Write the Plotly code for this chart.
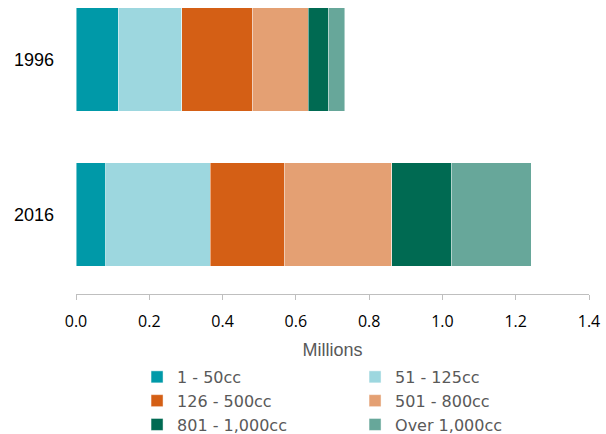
import plotly.graph_objects as go

years = ["1996", "2016"]
series_names = ["1 - 50cc", "51 - 125cc", "126 - 500cc", "501 - 800cc", "801 - 1,000cc", "Over 1,000cc"]
v_1_50 = [0.115, 0.081]
v_51_125 = [0.173, 0.285]
v_126_500 = [0.195, 0.202]
v_501_800 = [0.151, 0.293]
v_801_1000 = [0.056, 0.165]
v_over_1000 = [0.044, 0.216]
series_values = [v_1_50, v_51_125, v_126_500, v_501_800, v_801_1000, v_over_1000]
colors = ["#0099A8", "#9DD7DF", "#D45F15", "#E4A073", "#006A52", "#67A79A"]
x_ticks = [0.0, 0.2, 0.4, 0.6, 0.8, 1.0, 1.2, 1.4]

fig = go.Figure()
for name, vals, col in zip(series_names, series_values, colors):
    fig.add_trace(go.Bar(
        y=years, x=vals, name=name, orientation="h",
        marker=dict(color=col, line=dict(color="rgba(255,255,255,0.45)", width=1)),
        width=0.667,
    ))

fig.update_layout(
    width=606, height=434,
    barmode="stack",
    paper_bgcolor="white", plot_bgcolor="white",
    margin=dict(l=76, r=17, t=0, b=140),
    font=dict(family="Liberation Sans, Arial, sans-serif", color="#595959"),
    xaxis=dict(
        range=[0, 1.4], tickvals=x_ticks, tickformat=".1f",
        showgrid=False, zeroline=False, automargin=False,
        showline=True, linecolor="#BFBFBF", linewidth=1,
        ticks="outside", ticklen=5, tickcolor="#BFBFBF",
        tickfont=dict(family="Open Sans, sans-serif", size=16, color="black"),
        ticklabelstandoff=8,
        title=dict(text="Millions", font=dict(size=18, color="#595959"), standoff=25),
    ),
    yaxis=dict(
        type="category", range=[1.513, -0.385], automargin=False,
        showgrid=False, zeroline=False, showline=False,
        ticks="", tickfont=dict(family="Liberation Sans, Arial, sans-serif", size=18, color="black"),
        ticklabelstandoff=21,
    ),
    legend=dict(
        orientation="h", x=0.119, xanchor="left",
        yref="container", y=0.1706, yanchor="top",
        entrywidth=173, entrywidthmode="pixels",
        font=dict(family="DejaVu Sans, sans-serif", size=16, color="#595959"),
        traceorder="normal", itemwidth=30, tracegroupgap=0,
    ),
    showlegend=True,
)

fig.write_html("out.html", config={"displayModeBar": False},
               post_script="document.body.style.margin='0';")
